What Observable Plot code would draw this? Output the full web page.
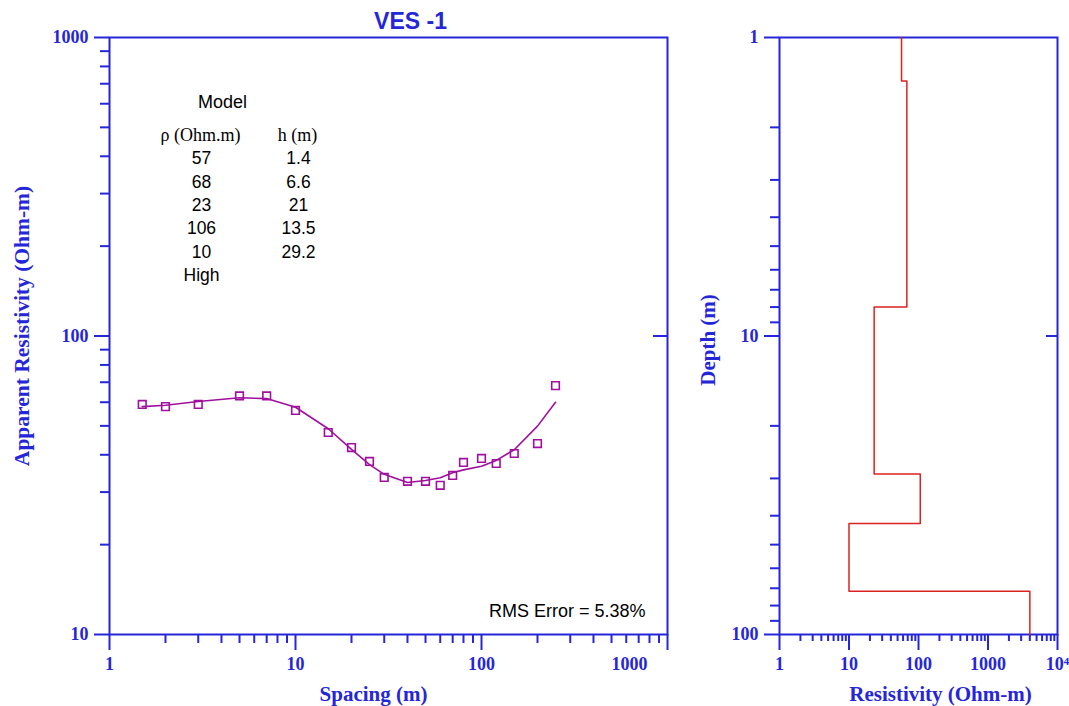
<!DOCTYPE html>
<html><head><meta charset="utf-8">
<script src="https://cdn.jsdelivr.net/npm/d3@7"></script>
<script src="https://cdn.jsdelivr.net/npm/@observablehq/plot@0.6"></script>
<style>
body{margin:0;background:#fff;}
#wrap{position:relative;width:1069px;height:706px;overflow:hidden;background:#fff;}
#left{position:absolute;left:0;top:0;}
#right{position:absolute;left:680px;top:0;}
</style></head><body><div id="wrap"><div id="left"></div><div id="right"></div></div>
<script>
// ---- data ----
const spacing = [1.5, 2, 3, 5, 7, 10, 15, 20, 25, 30, 40, 50, 60, 70, 80, 100, 120, 150, 200, 250];
const observed = [59, 58, 59, 63, 63, 56.3, 47.5, 42.3, 38, 33.6, 32.6, 32.6, 31.6, 34.1, 37.7, 38.9, 37.4, 40.4, 43.6, 68.2];
const modelSpacing = [1.5, 2, 3, 5, 7, 10, 15, 20, 25, 30, 40, 50, 60, 70, 80, 100, 120, 150, 200, 250];
const modelCurve = [58, 58.6, 60.3, 62.1, 61.7, 57.7, 48.9, 41.7, 37.1, 34.4, 32.3, 32.8, 33.5, 34.8, 35.6, 36.6, 38.3, 41.6, 49.9, 60];
const layerRho = [57, 68, 23, 106, 10, 4000];
const layerRhoLabels = ["57", "68", "23", "106", "10", "High"];
const layerThick = [1.4, 6.6, 21, 13.5, 29.2];
const layerThickLabels = ["1.4", "6.6", "21", "13.5", "29.2"];
const rmsText = "RMS Error = 5.38%";
const titleText = "VES -1";
const leftXTicks = [1, 10, 100];
const leftXLastTick = [1000];
const leftYTicks = [10, 100, 1000];
const rightXTicks = [1, 10, 100, 1000, 10000];
const rightYTicks = [1, 10, 100];

// ---- styles ----
const BLUE = "#2626d9";
const PURPLE = "#a0109f";
const RED = "#dc2220";
const SERIF = "'Liberation Serif', 'Times New Roman', serif";
const SANS = "'Liberation Sans', Arial, sans-serif";
const TICKFS = 18;
const LABELFS = 21;

function minors(from, to) {
  const out = [];
  for (let d = from; d < to; d *= 10) for (let k = 2; k <= 9; k++) out.push(k * d);
  return out;
}

const baseStyle = {fontFamily: SERIF, fontWeight: "bold", fontSize: "18px", color: BLUE, background: "transparent", overflow: "visible"};

// ---- left panel ----
const obs = spacing.map((s, i) => ({s, v: observed[i]}));
const mod = modelSpacing.map((s, i) => ({s, v: modelCurve[i]}));
const rowStep = 23.4;
const tbl = {fill: "black", fontWeight: "normal", lineAnchor: "middle", textAnchor: "middle", frameAnchor: "top-left", text: d => d};
const tableMarks = [
  Plot.text(["Model"], {...tbl, dx: 113, dy: 65, fontFamily: SANS, fontSize: 18}),
  Plot.text(["\u03c1 (Ohm.m)"], {...tbl, dx: 91, dy: 98, fontFamily: SERIF, fontSize: 18}),
  Plot.text(["h (m)"], {...tbl, dx: 188, dy: 98, fontFamily: SERIF, fontSize: 18}),
  ...layerRhoLabels.map((t, i) => Plot.text([t], {...tbl, dx: 92, dy: 121 + i * rowStep, fontFamily: SANS, fontSize: 17.5})),
  ...layerThickLabels.map((t, i) => Plot.text([t], {...tbl, dx: 189, dy: 121 + i * rowStep, fontFamily: SANS, fontSize: 17.5}))
];

const leftChart = Plot.plot({
  width: 680, height: 706,
  marginLeft: 109, marginRight: 13, marginTop: 37, marginBottom: 72,
  x: {type: "log", domain: [1, 1000]},
  y: {type: "log", domain: [10, 1000]},
  style: baseStyle,
  marks: [
    Plot.axisY({ticks: leftYTicks, tickSize: 15, tickPadding: 6, tickFormat: d => String(d), label: null, strokeWidth: 2, fontSize: TICKFS}),
    Plot.axisY({ticks: minors(10, 1000), tickSize: 9, tickFormat: () => "", label: null, strokeWidth: 2}),
    Plot.axisY({anchor: "right", ticks: [100], tickSize: 15, dx: -15, tickFormat: () => "", label: null, strokeWidth: 2}),
    Plot.axisX({ticks: leftXTicks, tickSize: 16, tickPadding: 7, tickFormat: d => String(d), label: null, strokeWidth: 2, fontSize: TICKFS}),
    Plot.axisX({ticks: leftXLastTick, tickSize: 16, tickFormat: () => "", label: null, strokeWidth: 2}),
    Plot.axisX({ticks: minors(1, 1000), tickSize: 9, tickFormat: () => "", label: null, strokeWidth: 2}),
    Plot.text(leftXLastTick, {x: d => d, text: d => String(d), frameAnchor: "bottom", lineAnchor: "top", dy: 23, dx: -38, fontSize: TICKFS}),
    Plot.frame({stroke: BLUE, strokeWidth: 2}),
    Plot.line(mod, {x: "s", y: "v", stroke: PURPLE, strokeWidth: 1.6}),
    Plot.dot(obs, {x: "s", y: "v", symbol: "square", r: 4.3, stroke: PURPLE, strokeWidth: 1.6, fill: "none"}),
    ...tableMarks,
    Plot.text([rmsText], {frameAnchor: "bottom-right", dx: -22, dy: -23, text: d => d, fill: "black", fontFamily: SANS, fontWeight: "normal", fontSize: 18, textAnchor: "end", lineAnchor: "middle"}),
    Plot.text([titleText], {frameAnchor: "top", dx: 22, dy: -16, text: d => d, fill: BLUE, fontFamily: SANS, fontWeight: "bold", fontSize: 23, lineAnchor: "middle"}),
    Plot.text(["Spacing (m)"], {frameAnchor: "bottom", dx: -15, dy: 60, text: d => d, fontSize: LABELFS, lineAnchor: "middle", textAnchor: "middle"}),
    Plot.text(["Apparent Resistivity (Ohm-m)"], {frameAnchor: "left", dx: -87, dy: -10, rotate: -90, text: d => d, fontSize: LABELFS + 0.5, lineAnchor: "middle", textAnchor: "middle"})
  ]
});
document.getElementById("left").appendChild(leftChart);

// ---- right panel ----
const prof = [];
let layerTop = 1;
layerRho.forEach((r, i) => {
  const layerBottom = i < layerThick.length ? d3.sum(layerThick.slice(0, i + 1)) : 100;
  prof.push({r, d: layerTop}, {r, d: layerBottom});
  layerTop = layerBottom;
});

const rightChart = Plot.plot({
  width: 389, height: 706,
  marginLeft: 99, marginRight: 12, marginTop: 37, marginBottom: 72,
  x: {type: "log", domain: [1, 10000]},
  y: {type: "log", domain: [1, 100], reverse: true},
  style: baseStyle,
  marks: [
    Plot.axisY({ticks: rightYTicks, tickSize: 15, tickPadding: 6, tickFormat: d => String(d), label: null, strokeWidth: 2, fontSize: TICKFS}),
    Plot.axisY({ticks: minors(1, 100), tickSize: 9, tickFormat: () => "", label: null, strokeWidth: 2}),
    Plot.axisY({anchor: "right", ticks: [10], tickSize: 12, dx: -12, tickFormat: () => "", label: null, strokeWidth: 2}),
    Plot.axisX({ticks: rightXTicks, tickSize: 16, tickPadding: 7, tickFormat: d => d === 10000 ? "10\u2074" : String(d), label: null, strokeWidth: 2, fontSize: TICKFS}),
    Plot.axisX({ticks: minors(1, 10000), tickSize: 7, tickFormat: () => "", label: null, strokeWidth: 2}),
    Plot.frame({stroke: BLUE, strokeWidth: 2}),
    Plot.line(prof, {x: "r", y: "d", stroke: RED, strokeWidth: 1.5}),
    Plot.text(["Resistivity (Ohm-m)"], {frameAnchor: "bottom", dx: 22, dy: 60, text: d => d, fontSize: LABELFS, lineAnchor: "middle", textAnchor: "middle"}),
    Plot.text(["Depth (m)"], {frameAnchor: "left", dx: -71, dy: 4, rotate: -90, text: d => d, fontSize: LABELFS, lineAnchor: "middle", textAnchor: "middle"})
  ]
});
document.getElementById("right").appendChild(rightChart);
</script>
</body></html>
